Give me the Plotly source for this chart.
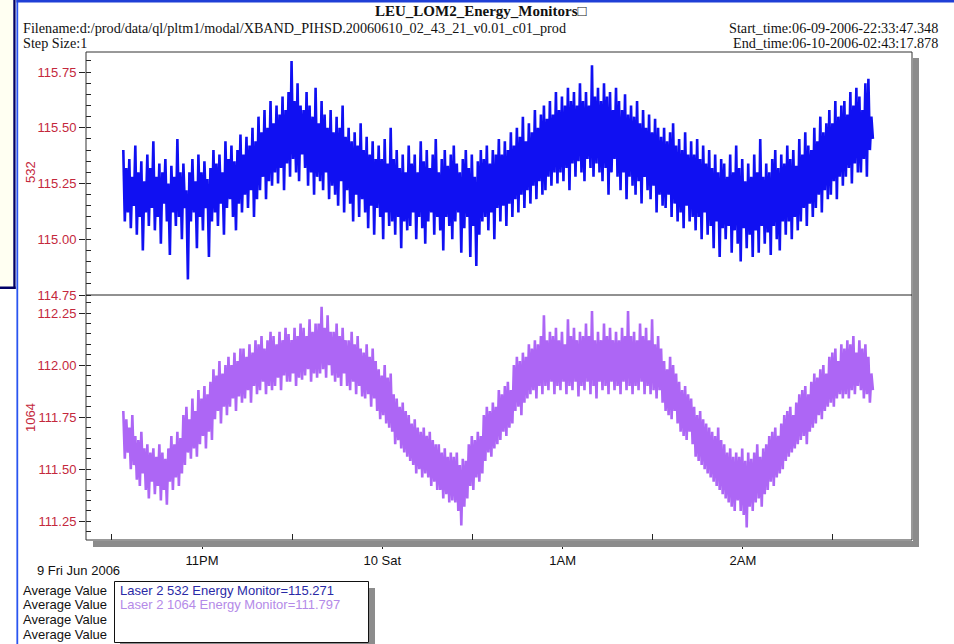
import plotly.graph_objects as go
import pandas as pd

# ---------------- data ----------------
start_time = "2006-06-09 22:33:47"
sample_step = "30s"

v532 = [
    115.40, 115.08, 115.32, 115.12, 115.36, 115.05, 115.28, 115.15, 115.42, 115.02,
    115.30, 115.10, 115.35, 114.95, 115.26, 115.12, 115.38, 115.06, 115.32, 115.14,
    115.44, 115.04, 115.28, 115.10, 115.34, 114.98, 115.30, 115.16, 115.36, 115.08,
    115.25, 114.93, 115.33, 115.12, 115.28, 115.06, 115.45, 115.10, 115.30, 115.00,
    115.34, 115.14, 115.22, 114.82, 115.30, 115.08, 115.36, 115.12, 115.26, 114.96,
    115.38, 115.10, 115.30, 115.04, 115.35, 115.14, 115.27, 114.92, 115.32, 115.08,
    115.40, 115.12, 115.34, 115.06, 115.38, 115.16, 115.30, 115.02, 115.44, 115.14,
    115.36, 115.18, 115.42, 115.10, 115.35, 115.04, 115.40, 115.16, 115.47, 115.12,
    115.38, 115.20, 115.46, 115.14, 115.42, 115.22, 115.50, 115.10, 115.44, 115.18,
    115.55, 115.22, 115.48, 115.28, 115.58, 115.18, 115.50, 115.26, 115.62, 115.24,
    115.52, 115.30, 115.60, 115.25, 115.56, 115.32, 115.64, 115.22, 115.58, 115.34,
    115.66, 115.28, 115.80, 115.36, 115.62, 115.30, 115.70, 115.26, 115.60, 115.38,
    115.58, 115.32, 115.66, 115.24, 115.60, 115.30, 115.55, 115.20, 115.68, 115.28,
    115.52, 115.26, 115.62, 115.22, 115.56, 115.30, 115.50, 115.18, 115.58, 115.24,
    115.48, 115.20, 115.55, 115.15, 115.50, 115.26, 115.60, 115.12, 115.46, 115.22,
    115.50, 115.16, 115.44, 115.08, 115.48, 115.20, 115.42, 115.10, 115.52, 115.18,
    115.40, 115.12, 115.46, 115.05, 115.38, 115.15, 115.44, 115.02, 115.36, 115.14,
    115.42, 115.10, 115.36, 115.00, 115.45, 115.12, 115.34, 115.06, 115.50, 115.08,
    115.36, 115.02, 115.40, 115.10, 115.32, 114.96, 115.38, 115.08, 115.30, 115.04,
    115.42, 115.06, 115.34, 115.12, 115.38, 115.00, 115.30, 115.10, 115.44, 115.05,
    115.35, 114.98, 115.40, 115.08, 115.32, 115.12, 115.38, 115.02, 115.45, 115.10,
    115.30, 115.04, 115.36, 114.95, 115.40, 115.10, 115.33, 115.06, 115.38, 115.00,
    115.42, 115.08, 115.34, 115.12, 115.30, 114.94, 115.36, 115.05, 115.40, 115.10,
    115.32, 114.92, 115.38, 115.06, 115.28, 114.88, 115.35, 115.02, 115.40, 115.08,
    115.36, 115.10, 115.42, 115.04, 115.34, 115.12, 115.40, 115.00, 115.38, 115.14,
    115.45, 115.08, 115.38, 115.15, 115.44, 115.06, 115.40, 115.16, 115.48, 115.10,
    115.42, 115.18, 115.50, 115.12, 115.46, 115.20, 115.55, 115.14, 115.44, 115.22,
    115.52, 115.16, 115.48, 115.24, 115.58, 115.18, 115.50, 115.26, 115.56, 115.20,
    115.60, 115.22, 115.54, 115.28, 115.62, 115.24, 115.56, 115.30, 115.66, 115.25,
    115.58, 115.30, 115.64, 115.26, 115.60, 115.32, 115.68, 115.22, 115.62, 115.34,
    115.66, 115.28, 115.60, 115.35, 115.70, 115.30, 115.62, 115.26, 115.66, 115.36,
    115.60, 115.32, 115.78, 115.28, 115.64, 115.34, 115.68, 115.30, 115.62, 115.26,
    115.70, 115.32, 115.64, 115.20, 115.66, 115.30, 115.58, 115.36, 115.68, 115.28,
    115.62, 115.22, 115.58, 115.30, 115.65, 115.18, 115.56, 115.28, 115.60, 115.24,
    115.55, 115.20, 115.62, 115.26, 115.52, 115.16, 115.58, 115.28, 115.50, 115.22,
    115.56, 115.18, 115.48, 115.24, 115.54, 115.12, 115.50, 115.20, 115.46, 115.15,
    115.50, 115.14, 115.44, 115.20, 115.48, 115.10, 115.52, 115.16, 115.42, 115.08,
    115.45, 115.12, 115.40, 115.05, 115.48, 115.15, 115.38, 115.08, 115.44, 115.10,
    115.38, 115.04, 115.45, 115.10, 115.36, 115.00, 115.42, 115.12, 115.34, 115.02,
    115.40, 115.06, 115.32, 114.96, 115.38, 115.08, 115.30, 114.92, 115.36, 115.05,
    115.34, 115.00, 115.28, 115.06, 115.38, 114.94, 115.30, 115.04, 115.42, 114.98,
    115.32, 114.90, 115.36, 115.05, 115.26, 114.96, 115.34, 115.02, 115.28, 114.92,
    115.38, 115.04, 115.30, 114.94, 115.45, 115.06, 115.28, 114.98, 115.34, 115.03,
    115.30, 114.93, 115.36, 115.06, 115.40, 115.00, 115.32, 114.95, 115.38, 115.08,
    115.34, 115.02, 115.42, 115.08, 115.36, 115.00, 115.40, 115.10, 115.33, 115.04,
    115.45, 115.08, 115.38, 115.14, 115.48, 115.06, 115.42, 115.16, 115.40, 115.10,
    115.50, 115.14, 115.44, 115.20, 115.55, 115.12, 115.48, 115.22, 115.52, 115.18,
    115.58, 115.20, 115.52, 115.26, 115.62, 115.18, 115.55, 115.28, 115.60, 115.24,
    115.62, 115.28, 115.56, 115.32, 115.66, 115.25, 115.60, 115.34, 115.68, 115.30,
    115.64, 115.30, 115.58, 115.36, 115.70, 115.28, 115.72, 115.40, 115.55, 115.45,
]

v1064 = [
    111.78, 111.55, 111.74, 111.58, 111.70, 111.50, 111.76, 111.52, 111.66, 111.45,
    111.64, 111.42, 111.68, 111.48, 111.60, 111.40, 111.62, 111.36, 111.58, 111.44,
    111.60, 111.38, 111.56, 111.42, 111.62, 111.35, 111.58, 111.40, 111.55, 111.33,
    111.60, 111.44, 111.66, 111.40, 111.62, 111.46, 111.68, 111.42, 111.65, 111.48,
    111.76, 111.52, 111.80, 111.58, 111.74, 111.55, 111.84, 111.60, 111.78, 111.56,
    111.88, 111.62, 111.84, 111.66, 111.90, 111.60, 111.86, 111.68, 111.92, 111.64,
    111.98, 111.74, 111.95, 111.78, 112.02, 111.72, 111.96, 111.80, 112.00, 111.76,
    112.04, 111.80, 112.00, 111.84, 112.06, 111.78, 112.02, 111.85, 112.08, 111.82,
    112.08, 111.84, 112.04, 111.88, 112.10, 111.82, 112.06, 111.90, 112.12, 111.86,
    112.10, 111.88, 112.14, 111.92, 112.08, 111.86, 112.12, 111.90, 112.16, 111.88,
    112.14, 111.90, 112.10, 111.94, 112.16, 111.88, 112.12, 111.95, 112.18, 111.92,
    112.15, 111.92, 112.12, 111.96, 112.18, 111.90, 112.14, 111.94, 112.20, 111.93,
    112.18, 111.95, 112.14, 111.98, 112.22, 111.92, 112.16, 111.96, 112.20, 111.94,
    112.20, 111.96, 112.28, 111.98, 112.18, 111.94, 112.24, 112.00, 112.16, 111.95,
    112.16, 111.92, 112.20, 111.94, 112.14, 111.90, 112.18, 111.96, 112.12, 111.90,
    112.12, 111.88, 112.16, 111.92, 112.10, 111.86, 112.14, 111.90, 112.08, 111.85,
    112.06, 111.84, 112.10, 111.86, 112.04, 111.80, 112.08, 111.84, 112.02, 111.78,
    111.98, 111.74, 111.95, 111.76, 112.00, 111.72, 111.94, 111.70, 111.96, 111.68,
    111.86, 111.62, 111.84, 111.64, 111.80, 111.60, 111.82, 111.58, 111.78, 111.56,
    111.76, 111.54, 111.72, 111.52, 111.74, 111.48, 111.70, 111.50, 111.68, 111.46,
    111.70, 111.48, 111.66, 111.46, 111.68, 111.42, 111.64, 111.44, 111.62, 111.40,
    111.62, 111.40, 111.58, 111.36, 111.60, 111.38, 111.56, 111.34, 111.58, 111.35,
    111.56, 111.34, 111.58, 111.30, 111.52, 111.23, 111.55, 111.32, 111.54, 111.36,
    111.62, 111.42, 111.66, 111.40, 111.64, 111.46, 111.68, 111.44, 111.66, 111.48,
    111.76, 111.54, 111.80, 111.58, 111.78, 111.56, 111.82, 111.60, 111.80, 111.62,
    111.88, 111.64, 111.86, 111.68, 111.90, 111.66, 111.92, 111.70, 111.88, 111.72,
    112.00, 111.78, 112.04, 111.80, 112.02, 111.76, 112.06, 111.82, 112.04, 111.84,
    112.10, 111.86, 112.08, 111.88, 112.12, 111.84, 112.10, 111.90, 112.14, 111.86,
    112.24, 111.90, 112.12, 111.88, 112.16, 111.92, 112.14, 111.86, 112.18, 111.90,
    112.12, 111.88, 112.16, 111.92, 112.10, 111.86, 112.22, 111.90, 112.14, 111.88,
    112.18, 111.92, 112.12, 111.85, 112.16, 111.90, 112.14, 111.88, 112.20, 111.92,
    112.14, 111.86, 112.26, 111.90, 112.12, 111.84, 112.16, 111.92, 112.12, 111.88,
    112.20, 111.90, 112.14, 111.86, 112.18, 111.92, 112.12, 111.88, 112.16, 111.90,
    112.12, 111.86, 112.18, 111.92, 112.14, 111.88, 112.26, 111.90, 112.14, 111.86,
    112.16, 111.90, 112.12, 111.88, 112.20, 111.92, 112.14, 111.86, 112.18, 111.90,
    112.12, 111.86, 112.22, 111.88, 112.10, 111.84, 112.14, 111.88, 112.08, 111.82,
    112.02, 111.78, 111.98, 111.76, 112.04, 111.74, 112.00, 111.78, 111.96, 111.72,
    111.92, 111.68, 111.88, 111.66, 111.90, 111.64, 111.86, 111.68, 111.84, 111.62,
    111.80, 111.56, 111.76, 111.54, 111.78, 111.52, 111.74, 111.50, 111.72, 111.48,
    111.70, 111.46, 111.68, 111.44, 111.66, 111.42, 111.70, 111.40, 111.64, 111.38,
    111.62, 111.36, 111.58, 111.34, 111.60, 111.32, 111.56, 111.30, 111.58, 111.35,
    111.56, 111.30, 111.60, 111.28, 111.54, 111.22, 111.58, 111.32, 111.55, 111.30,
    111.58, 111.34, 111.62, 111.36, 111.56, 111.32, 111.60, 111.38, 111.62, 111.40,
    111.66, 111.44, 111.68, 111.42, 111.70, 111.46, 111.66, 111.48, 111.72, 111.50,
    111.76, 111.54, 111.78, 111.56, 111.80, 111.58, 111.76, 111.60, 111.82, 111.62,
    111.86, 111.64, 111.88, 111.66, 111.90, 111.62, 111.86, 111.68, 111.92, 111.70,
    111.96, 111.72, 111.94, 111.76, 111.98, 111.74, 112.00, 111.78, 111.96, 111.80,
    112.04, 111.82, 112.06, 111.80, 112.08, 111.84, 112.02, 111.86, 112.10, 111.84,
    112.08, 111.86, 112.12, 111.84, 112.10, 111.88, 112.14, 111.86, 112.06, 111.90,
    112.12, 111.88, 112.08, 111.84, 112.10, 111.86, 112.04, 111.82, 111.96, 111.88,
]

x_tick_vals = ["2006-06-09 23:00:00", "2006-06-10 00:00:00",
               "2006-06-10 01:00:00", "2006-06-10 02:00:00"]
x_tick_text = ["11PM", "10 Sat", "1AM", "2AM"]
x_minor_vals = ["2006-06-09 22:30:00", "2006-06-09 23:30:00", "2006-06-10 00:30:00",
                "2006-06-10 01:30:00", "2006-06-10 02:30:00"]
x_range = ["2006-06-09 22:21:22", "2006-06-10 02:56:18"]
y532_range = [114.75, 115.84]
y1064_range = [111.16, 112.337]

series_names = ["Laser 2 532 Energy Monitor", "Laser 2 1064 Energy Monitor"]
series_avgs = [115.271, 111.797]

title_text = "LEU_LOM2_Energy_Monitors\u25a1"
filename_text = "Filename:d:/prod/data/ql/pltm1/modal/XBAND_PIHSD.20060610_02_43_21_v0.01_c01_prod"
step_text = "Step Size:1"
start_text = "Start_time:06-09-2006-22:33:47.348"
end_text = "End_time:06-10-2006-02:43:17.878"
date_text = "9 Fri Jun 2006"

# ---------------- geometry ----------------
W, H = 954, 644
L, R, T, B = 86, 912, 52, 540
PW, PH = R - L, B - T


def px(x):
    return (x - L) / PW


def py(y):
    return (B - y) / PH


split = py(295)

BLUE = "#1010f2"
PURPLE = "#ad66f5"
RED = "#c4283c"
AX = "#222222"

times = pd.date_range(start_time, periods=len(v532), freq=sample_step)

fig = go.Figure()
fig.add_trace(go.Scatter(x=times, y=v532, mode="lines",
                         line=dict(color=BLUE, width=2.6),
                         xaxis="x", yaxis="y", name=series_names[0]))
fig.add_trace(go.Scatter(x=times, y=v1064, mode="lines",
                         line=dict(color=PURPLE, width=2.6),
                         xaxis="x", yaxis="y2", name=series_names[1]))

yfont = dict(family="Arial, Liberation Sans, sans-serif", size=13, color=RED)

fig.update_layout(
    width=W, height=H, autosize=False,
    margin=dict(l=L, r=W - R, t=T, b=H - B),
    paper_bgcolor="white", plot_bgcolor="white",
    showlegend=False,
    xaxis=dict(
        domain=[0, 1], anchor="y2", type="date", range=x_range,
        tickmode="array", tickvals=x_tick_vals, ticktext=x_tick_text,
        ticks="outside", ticklen=8, tickwidth=1, tickcolor=AX,
        showline=False, showgrid=False, zeroline=False,
        tickfont=dict(family="Arial, Liberation Sans, sans-serif", size=13, color="#111"),
        minor=dict(ticks="inside", ticklen=6, tickcolor=AX, tickmode="array",
                   tickvals=x_minor_vals, showgrid=False),
    ),
    yaxis=dict(
        domain=[split, 1], anchor="x", range=y532_range,
        tickmode="linear", tick0=114.75, dtick=0.25, tickformat=".2f",
        ticks="outside", ticklen=6, tickcolor=AX, tickfont=yfont,
        showline=False, showgrid=False, zeroline=False,
        minor=dict(ticks="inside", ticklen=5, tickcolor=AX, tick0=114.75, dtick=0.05,
                   showgrid=False),
    ),
    yaxis2=dict(
        domain=[0, split], anchor="x", range=y1064_range,
        tickmode="linear", tick0=111.25, dtick=0.25, tickformat=".2f",
        ticks="outside", ticklen=6, tickcolor=AX, tickfont=yfont,
        showline=False, showgrid=False, zeroline=False,
        minor=dict(ticks="inside", ticklen=5, tickcolor=AX, tick0=111.25, dtick=0.05,
                   showgrid=False),
    ),
)

shapes = []


def rect(x0, y0, x1, y1, fill=None, line=None, width=1, layer="above"):
    d = dict(type="rect", xref="paper", yref="paper",
             x0=px(x0), x1=px(x1), y0=py(y1), y1=py(y0), layer=layer)
    d["fillcolor"] = fill if fill else "rgba(0,0,0,0)"
    d["line"] = dict(color=line, width=width) if line else dict(width=0)
    shapes.append(d)


# page decorations on the left / top
rect(0, 0, 13.3, 286.5, fill="#fffff2")
rect(13.3, 0, 15.6, 289, fill="#000066")
rect(0, 286.5, 15.6, 289, fill="#000066")
rect(16.4, 0, 18.2, 644, fill="#2a55f0")
rect(16.4, 0, 954, 2.6, fill="#1f3fd6")

# plot shadows
rect(913, 58, 919, 547, fill="#8c8c8c")
rect(93, 541, 919, 547, fill="#8c8c8c")
# plot frame + divider
rect(L, T, R, B, line="#333333", width=1)
shapes.append(dict(type="line", xref="paper", yref="paper", x0=0, x1=1,
                   y0=split, y1=split, line=dict(color="#222222", width=1)))

# legend box with shadow
rect(369, 588, 375, 650, fill="#8c8c8c")
rect(120, 643, 375, 650, fill="#8c8c8c")
rect(114.5, 581.5, 368.5, 642.5, fill="white", line="#111111", width=1)

fig.update_layout(shapes=shapes)

ann = []
serif = "Liberation Serif, Times New Roman, serif"
sans = "Arial, Liberation Sans, sans-serif"


def text(x, y, s, anchor="left", size=13, color="#111", family=sans, angle=0):
    ann.append(dict(xref="paper", yref="paper", x=px(x), y=py(y), text=s,
                    showarrow=False, xanchor=anchor, yanchor="middle",
                    textangle=angle, borderpad=0,
                    font=dict(family=family, size=size, color=color)))


text(481, 11, "<b>" + title_text + "</b>", anchor="center", size=15, family=serif)
text(22, 28, filename_text, size=14.2, family=serif)
text(22, 43, step_text, size=14.2, family=serif)
text(939, 28, start_text, anchor="right", size=14.2, family=serif)
text(939, 43, end_text, anchor="right", size=14.2, family=serif)

text(30, 172, "532", anchor="center", size=13, color=RED, angle=-90)
text(30, 418, "1064", anchor="center", size=13, color=RED, angle=-90)

text(36, 570, date_text)
for yy in [590, 604, 619, 634]:
    text(22, yy, "Average Value")
text(119, 590, f"{series_names[0]}={series_avgs[0]:.3f}", color="#2a2aa6")
text(119, 604, f"{series_names[1]}={series_avgs[1]:.3f}", color="#b48ae8")

fig.update_layout(annotations=ann)

fig.write_html("out.html",
               config={"displayModeBar": False},
               post_script="document.body.style.margin='0';document.body.style.padding='0';")
